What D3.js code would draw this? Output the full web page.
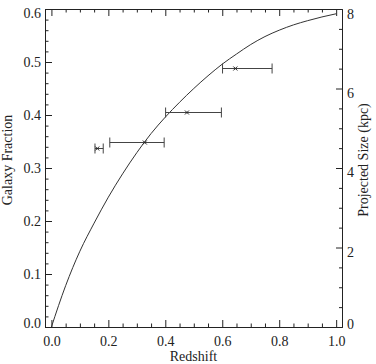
<!DOCTYPE html>
<html>
<head>
<meta charset="utf-8">
<script src="https://cdn.jsdelivr.net/npm/d3@7/dist/d3.min.js"></script>
<style>
  html, body { margin: 0; padding: 0; background: #fff; }
  svg { display: block; }
  text { font-family: "Liberation Serif", "Times New Roman", Times, serif; fill: #222; }
</style>
</head>
<body>
<svg id="chart" width="376" height="364"></svg>
<script>
// ---- data ----
const curveZ    = [0, 0.05, 0.10, 0.15, 0.20, 0.25, 0.30, 0.35, 0.40, 0.45, 0.50, 0.55, 0.60, 0.65, 0.70, 0.75, 0.80, 0.85, 0.90, 0.95, 1.00];
const curveFrac = [0, 0.078, 0.143, 0.196, 0.245, 0.289, 0.329, 0.365, 0.396, 0.424, 0.450, 0.474, 0.496, 0.515, 0.533, 0.548, 0.560, 0.570, 0.578, 0.585, 0.591];
const pointZ    = [0.161, 0.328, 0.476, 0.646];
const pointFrac = [0.337, 0.3485, 0.406, 0.488];
const zLow      = [0.153, 0.205, 0.401, 0.601];
const zHigh     = [0.182, 0.396, 0.597, 0.775];
const xTicks    = [0.0, 0.2, 0.4, 0.6, 0.8, 1.0];
const yTicks    = [0.0, 0.1, 0.2, 0.3, 0.4, 0.5, 0.6];
const yRTicks   = [0, 2, 4, 6, 8];
const xTitle = "Redshift", yTitle = "Galaxy Fraction", yRTitle = "Projected Size (kpc)";

// ---- layout ----
const FONT = '"Liberation Serif", "Times New Roman", Times, serif';
const L = 45, R = 342, T = 9, B = 327;
const svg = d3.select("#chart");
const x  = d3.scaleLinear().domain([-0.0225, 1.0205]).range([L, R]);
const y  = d3.scaleLinear().domain([0, 0.6]).range([B, T]);
const yR = d3.scaleLinear().domain([0, 8]).range([B, T]);

const xMinor  = d3.range(0, 21).map(i => i * 0.05).filter(v => !xTicks.some(t => Math.abs(t - v) < 1e-9));
const yMinor  = d3.range(0, 31).map(i => i * 0.02).filter(v => !yTicks.some(t => Math.abs(t - v) < 1e-9));
const yRMinor = d3.range(0, 17).map(i => i * 0.5).filter(v => !yRTicks.some(t => Math.abs(t - v) < 1e-9));

function style(g) {
  g.selectAll("path.domain").attr("stroke", "#222").attr("stroke-width", 1);
  g.selectAll(".tick line").attr("stroke", "#222").attr("stroke-width", 1);
  g.selectAll("text").attr("font-size", 14).attr("font-family", FONT).attr("fill", "#222");
}

// bottom
svg.append("g").attr("transform", `translate(0,${B})`)
  .call(d3.axisBottom(x).tickValues(xTicks).tickSize(-7).tickSizeOuter(0).tickPadding(9).tickFormat(d3.format(".1f")))
  .call(style);
svg.append("g").attr("transform", `translate(0,${B})`)
  .call(d3.axisBottom(x).tickValues(xMinor).tickSize(-3.5).tickSizeOuter(0).tickFormat(""))
  .call(style);
// top
svg.append("g").attr("transform", `translate(0,${T})`)
  .call(d3.axisTop(x).tickValues(xTicks).tickSize(-7).tickSizeOuter(0).tickFormat(""))
  .call(style);
svg.append("g").attr("transform", `translate(0,${T})`)
  .call(d3.axisTop(x).tickValues(xMinor).tickSize(-3.5).tickSizeOuter(0).tickFormat(""))
  .call(style);
// left
const gl = svg.append("g").attr("transform", `translate(${L},0)`)
  .call(d3.axisLeft(y).tickValues(yTicks).tickSize(-7).tickSizeOuter(0).tickPadding(4).tickFormat(d3.format(".1f")))
  .call(style);
gl.selectAll(".tick text").attr("dy", d => d === 0 ? "0.05em" : (d === 0.6 ? "0.6em" : "0.32em"));
svg.append("g").attr("transform", `translate(${L},0)`)
  .call(d3.axisLeft(y).tickValues(yMinor).tickSize(-3.5).tickSizeOuter(0).tickFormat(""))
  .call(style);
// right
const gr = svg.append("g").attr("transform", `translate(${R},0)`)
  .call(d3.axisRight(yR).tickValues(yRTicks).tickSize(-6).tickSizeOuter(0).tickPadding(5).tickFormat(d3.format("d")))
  .call(style);
gr.selectAll(".tick text").attr("dy", d => d === 0 ? "0.12em" : (d === 8 ? "0.7em" : "0.62em"));
svg.append("g").attr("transform", `translate(${R},0)`)
  .call(d3.axisRight(yR).tickValues(yRMinor).tickSize(-3).tickSizeOuter(0).tickFormat(""))
  .call(style);

// titles
const titleMid = 160;
svg.append("text").attr("x", (L + R) / 2).attr("y", 361).attr("text-anchor", "middle")
  .attr("font-size", 14).attr("font-family", FONT).text(xTitle);
svg.append("text").attr("transform", `translate(12,${titleMid}) rotate(-90)`).attr("text-anchor", "middle")
  .attr("font-size", 14).attr("font-family", FONT).text(yTitle);
svg.append("text").attr("transform", `translate(368,${titleMid}) rotate(-90)`).attr("text-anchor", "middle")
  .attr("font-size", 14).attr("font-family", FONT).text(yRTitle);

// curve
const line = d3.line().x(d => x(d[0])).y(d => y(d[1])).curve(d3.curveMonotoneX);
svg.append("path").datum(curveZ.map((z, i) => [z, curveFrac[i]]))
  .attr("d", line).attr("fill", "none").attr("stroke", "#333").attr("stroke-width", 1);

// error bars and points
const pts = pointZ.map((z, i) => ({ z, f: pointFrac[i], lo: zLow[i], hi: zHigh[i] }));
const eg = svg.append("g").attr("stroke", "#444").attr("stroke-width", 1).attr("fill", "none");
pts.forEach(p => {
  const yy = Math.round(y(p.f)) + 0.5;
  eg.append("line").attr("x1", x(p.lo)).attr("x2", x(p.hi)).attr("y1", yy).attr("y2", yy);
  eg.append("line").attr("x1", x(p.lo)).attr("x2", x(p.lo)).attr("y1", yy - 5).attr("y2", yy + 5);
  eg.append("line").attr("x1", x(p.hi)).attr("x2", x(p.hi)).attr("y1", yy - 5).attr("y2", yy + 5);
  const cx = x(p.z), s = 2;
  eg.append("path").attr("d", `M${cx - s},${yy - s}L${cx + s},${yy + s}M${cx - s},${yy + s}L${cx + s},${yy - s}`)
    .attr("stroke", "#222");
});
</script>
</body>
</html>
